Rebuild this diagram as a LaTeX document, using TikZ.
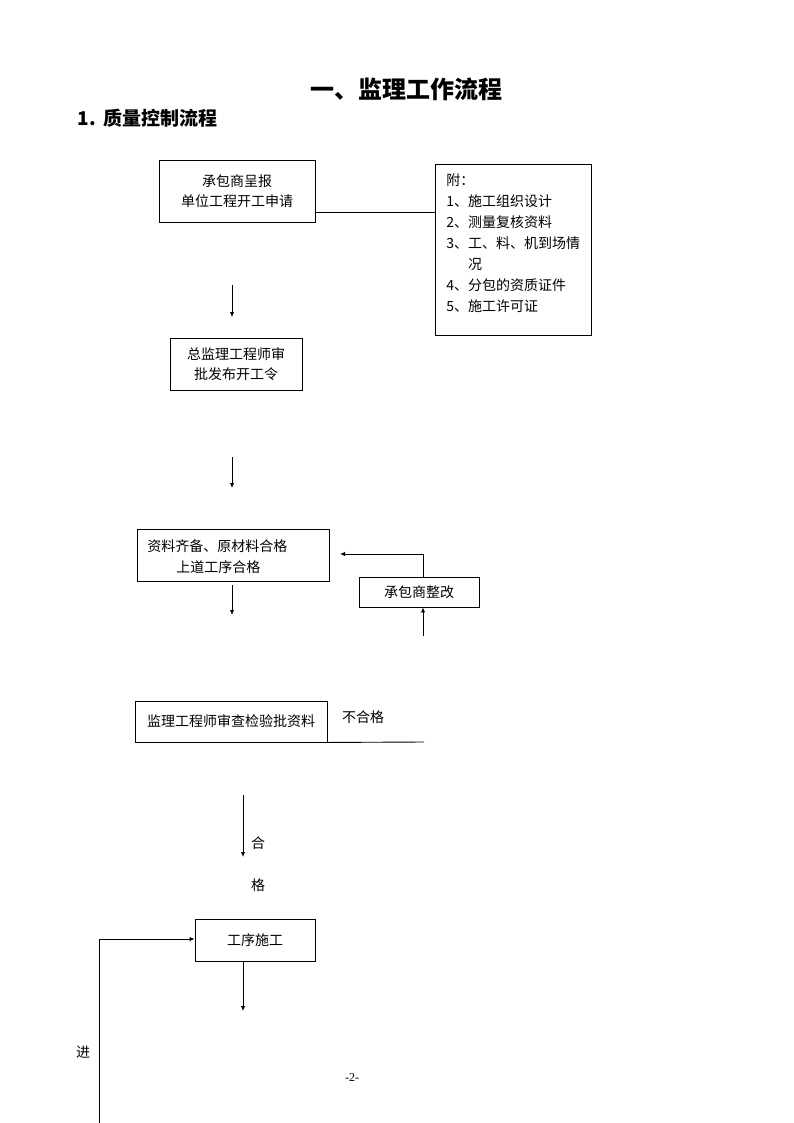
\documentclass[tikz,border=0pt]{standalone}
\usepackage{fontspec}
\setmainfont{Noto Sans CJK SC}
\newfontfamily\serifnum{Liberation Serif}
\usetikzlibrary{arrows.meta}
\begin{document}
\begin{tikzpicture}[x=1pt,y=-1pt,
  line width=0.9pt,
  box/.style={draw,line width=0.9pt,inner sep=0pt,align=center,font=\fontsize{14}{20.5}\selectfont},
  lbl/.style={inner sep=0pt,font=\fontsize{14}{20.7}\selectfont},
  arr/.style={-{Latex[length=5pt,width=4.5pt]}}]
\useasboundingbox (0,0) rectangle (794,1123);
% titles
\node[inner sep=0pt,font=\fontsize{24}{28}\selectfont\bfseries] (title) at (406,89) {一、监理工作流程};
\node[inner sep=0pt,anchor=west,font=\fontsize{19}{22}\selectfont\bfseries] (sub) at (77,118) {1.\hspace{8pt}质量控制流程};
% boxes
\node[box,minimum width=156,minimum height=62] (b1) at (237,191) {承包商呈报\\单位工程开工申请};
\node[box,minimum width=156,minimum height=171] (side) at (513,249.5) {};
\node[lbl,anchor=north west,align=left,font=\fontsize{14}{20.9}\selectfont] (sidetext) at (446,173.5)
  {附：\\1、施工组织设计\\2、测量复核资料\\3、工、料、机到场情\\\phantom{3、}况\\4、分包的资质证件\\5、施工许可证};
\node[box,minimum width=132,minimum height=52] (b2) at (236,364) {总监理工程师审\\批发布开工令};
\node[box,minimum width=192,minimum height=52] (b3) at (233,555) {};
\node[lbl,anchor=west] (b3a) at (147,546) {资料齐备、原材料合格};
\node[lbl,anchor=west] (b3b) at (176,567) {上道工序合格};
\node[box,minimum width=120,minimum height=30] (b4) at (419,592) {承包商整改};
\node[box,minimum width=192,minimum height=41] (b5) at (231,721.5) {监理工程师审查检验批资料};
\node[lbl] (bhg) at (363,717) {不合格};
\node[box,minimum width=120,minimum height=42] (b6) at (255,940) {工序施工};
\node[lbl] (he) at (258,843) {合};
\node[lbl] (ge) at (258,885) {格};
\node[lbl] (jin) at (83,1052) {进};
\node[inner sep=0pt,font=\serifnum\fontsize{12}{14}\selectfont] (pg) at (352,1078) {-2-};
% coordinates
\coordinate (a1s) at (232,285); \coordinate (a1e) at (232,317);
\coordinate (a2s) at (232,457); \coordinate (a2e) at (232,488);
\coordinate (a3s) at (232,585); \coordinate (a3e) at (232,615);
\coordinate (a4s) at (243,795); \coordinate (a4e) at (243,857);
\coordinate (a5e) at (243,1011);
\coordinate (r1) at (423,636);
\coordinate (r2) at (423,554);
\coordinate (r3) at (340,554);
\coordinate (n1) at (424,742);
\coordinate (l1) at (99,1123);
\coordinate (l2) at (99,939);
% connectors
\draw (b1.east |- 0,212) -- (side.west |- 0,212);
\draw[arr] (a1s) -- (a1e);
\draw[arr] (a2s) -- (a2e);
\draw[arr] (a3s) -- (a3e);
\draw[arr] (r1) -- (b4.south -| r1);
\draw[arr] (b4.north -| r2) -- (r2) -- (r3);
\draw (b5.south east) -- (n1);
\draw[arr] (a4s) -- (a4e);
\draw[arr] (l1) -- (l2) -- (b6.west |- l2);
\draw[arr] (b6.south -| a5e) -- (a5e);
\end{tikzpicture}
\end{document}
